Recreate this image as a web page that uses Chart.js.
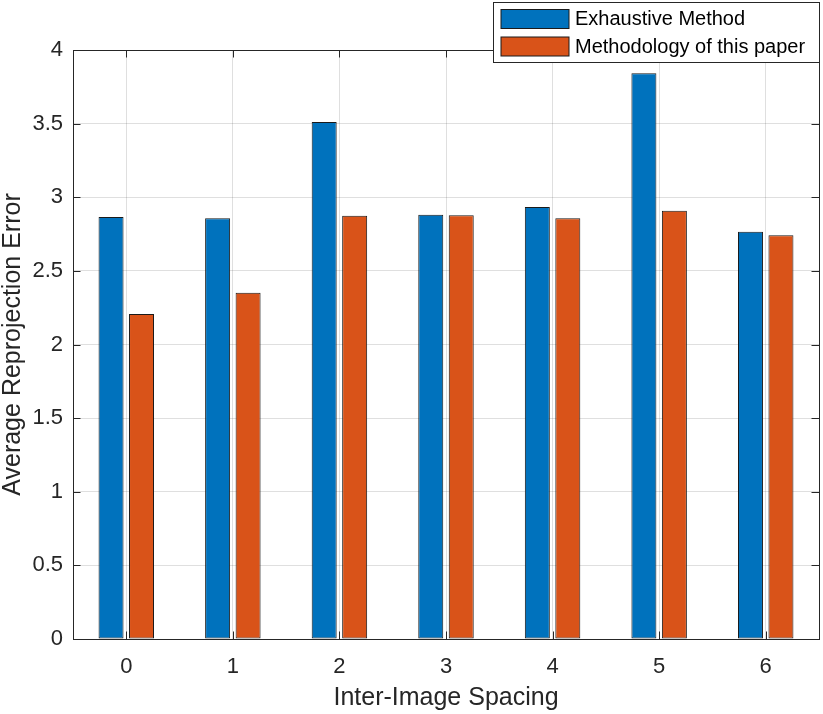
<!DOCTYPE html>
<html>
<head>
<meta charset="utf-8">
<script src="https://cdn.jsdelivr.net/npm/chart.js@4.4.1/dist/chart.umd.min.js"></script>
<style>
  html, body { margin: 0; padding: 0; background: #fff; }
  canvas { display: block; }
</style>
</head>
<body>
<canvas id="myBarChart" width="823" height="714"></canvas>
<script>
// datos
var categorias = ['0', '1', '2', '3', '4', '5', '6'];
var exhaustivo = [2.866, 2.857, 3.511, 2.882, 2.934, 3.842, 2.766];
var metodologia = [2.207, 2.352, 2.875, 2.877, 2.857, 2.909, 2.742];
var ticksY = [0, 0.5, 1, 1.5, 2, 2.5, 3, 3.5, 4];
var nombres = ['Exhaustive Method', 'Methodology of this paper'];
var colores = ['#0072BD', '#D95319'];

var fuente = '"Liberation Sans", Arial, Helvetica, sans-serif';
var colorEje = '#262626';

// marco del eje y marcas hacia dentro (como MATLAB)
var marcoPlugin = {
    id: 'marco',
    beforeDatasetsDraw: function(chart) {
        var ctx = chart.ctx;
        var a = chart.chartArea;
        var sx = chart.scales.x;
        var sy = chart.scales.y;
        var largo = 7.5;
        ctx.save();
        ctx.strokeStyle = colorEje;
        ctx.lineWidth = 1;
        ctx.beginPath();
        for (var i = 0; i < categorias.length; i++) {
            var px = Math.round(sx.getPixelForValue(i)) + 0.5;
            ctx.moveTo(px, a.bottom); ctx.lineTo(px, a.bottom - largo);
            ctx.moveTo(px, a.top); ctx.lineTo(px, a.top + largo);
        }
        for (var j = 0; j < ticksY.length; j++) {
            var py = Math.round(sy.getPixelForValue(ticksY[j])) + 0.5;
            ctx.moveTo(a.left, py); ctx.lineTo(a.left + largo, py);
            ctx.moveTo(a.right, py); ctx.lineTo(a.right - largo, py);
        }
        ctx.stroke();
        ctx.strokeRect(Math.round(a.left) + 0.5, Math.round(a.top) + 0.5,
                       Math.round(a.right - a.left), Math.round(a.bottom - a.top));
        ctx.restore();
    },
    afterDraw: function(chart) {
        // leyenda dentro de la esquina superior derecha
        var ctx = chart.ctx;
        var x0 = 493.5, y0 = 2.5, w = 326, h = 60;
        ctx.save();
        ctx.fillStyle = '#ffffff';
        ctx.fillRect(x0, y0, w, h);
        ctx.strokeStyle = colorEje;
        ctx.lineWidth = 1;
        ctx.strokeRect(x0, y0, w, h);
        ctx.font = '20px ' + fuente;
        ctx.textBaseline = 'middle';
        ctx.textAlign = 'left';
        chart.data.datasets.forEach(function(ds, k) {
            var sy = 9.5 + k * 27.5;
            ctx.fillStyle = ds.backgroundColor;
            ctx.fillRect(501, sy, 68, 19);
            ctx.strokeStyle = '#1a1a1a';
            ctx.strokeRect(501, sy, 68, 19);
            ctx.fillStyle = '#000000';
            ctx.fillText(ds.label, 575, sy + 10);
        });
        ctx.restore();
    }
};

var ctx = document.getElementById('myBarChart').getContext('2d');

var datosGrafica = {
    labels: categorias,
    datasets: [{
        label: nombres[0],
        data: exhaustivo,
        backgroundColor: colores[0],
        borderColor: '#1a1a1a',
        borderWidth: 1,
        borderSkipped: false,
        categoryPercentage: 0.572,
        barPercentage: 0.82
    }, {
        label: nombres[1],
        data: metodologia,
        backgroundColor: colores[1],
        borderColor: '#1a1a1a',
        borderWidth: 1,
        borderSkipped: false,
        categoryPercentage: 0.572,
        barPercentage: 0.82
    }]
};

var opciones = {
    responsive: false,
    animation: false,
    layout: { padding: { top: 50, right: 4, left: 0, bottom: 0 } },
    plugins: {
        legend: { display: false },
        tooltip: { enabled: false }
    },
    scales: {
        x: {
            offset: true,
            grid: { offset: false, color: 'rgba(38,38,38,0.15)', drawTicks: false },
            border: { display: false },
            ticks: { color: colorEje, padding: 15, font: { family: fuente, size: 22 } },
            title: {
                display: true,
                text: 'Inter-Image Spacing',
                color: colorEje,
                font: { family: fuente, size: 25, lineHeight: 1 },
                padding: { top: 0, bottom: 3 }
            },
            afterFit: function(scale) { scale.height = 75; }
        },
        y: {
            min: 0,
            max: 4,
            grid: { color: 'rgba(38,38,38,0.15)', drawTicks: false },
            border: { display: false },
            afterBuildTicks: function(scale) {
                scale.ticks = ticksY.map(function(v) { return { value: v }; });
            },
            ticks: {
                color: colorEje,
                padding: 10,
                font: { family: fuente, size: 22 },
                callback: function(v) { return String(v); }
            },
            title: {
                display: true,
                text: 'Average Reprojection Error',
                color: colorEje,
                font: { family: fuente, size: 25, lineHeight: 1 },
                padding: { top: 1, bottom: 0 }
            },
            afterFit: function(scale) { scale.width = 73; }
        }
    }
};

var miGrafica = new Chart(ctx, {
    type: 'bar',
    data: datosGrafica,
    options: opciones,
    plugins: [marcoPlugin]
});
</script>
</body>
</html>
